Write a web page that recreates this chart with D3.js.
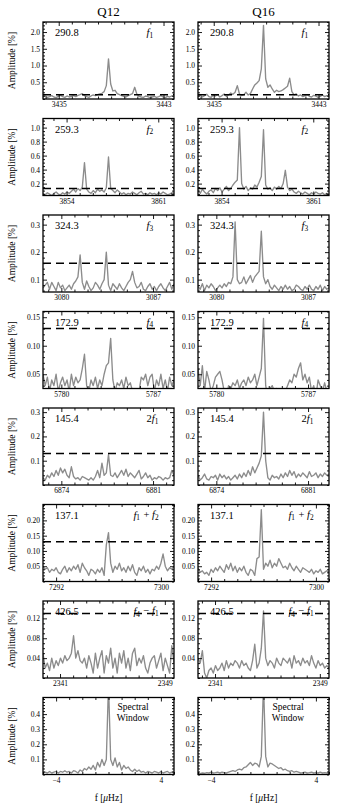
<!DOCTYPE html>
<html>
<head>
<meta charset="utf-8">
<script src="https://cdnjs.cloudflare.com/ajax/libs/d3/7.8.5/d3.min.js"></script>
<style>
  body { margin: 0; background: #fff; }
  svg { display: block; font-family: "Liberation Serif", "DejaVu Serif", serif; }
</style>
</head>
<body>
<svg id="chart" width="338" height="810"></svg>
<script>
// Amplitude spectra around each mode, Q12 (left) and Q16 (right)

const quarters = ['Q12', 'Q16'];
const periods = ['290.8', '259.3', '324.3', '172.9', '145.4', '137.1', '426.5', ''];
const modeLabels = ['f_1', 'f_2', 'f_3', 'f_4', '2f_1', 'f_1 + f_2', 'f_4 \u2212 f_1', ''];
// centre frequency of each row (uHz); every panel spans +-5 uHz around it
const centers = [3438.8, 3857.2, 3083.6, 5783.6, 6877.6, 7296.0, 2344.7, 0];
const xTickValues = [[3435, 3443], [3854, 3861], [3080, 3087], [5780, 5787], [6874, 6881], [7292, 7300], [2341, 2349], [-4, 4]];
const yDomains = [[0, 2.3], [0.03, 1.13], [0.055, 0.335], [0.025, 0.16], [0, 0.317], [0, 0.252], [0, 0.155], [0, 0.51]];
const yMajorTicks = [
  [0.5, 1.0, 1.5, 2.0], [0.2, 0.4, 0.6, 0.8, 1.0], [0.1, 0.2, 0.3], [0.05, 0.10, 0.15],
  [0.1, 0.2, 0.3], [0.05, 0.10, 0.15, 0.20], [0.04, 0.08, 0.12], [0.1, 0.2, 0.3, 0.4]
];
const yMinorStep = [0.1, 0.05, 0.02, 0.01, 0.02, 0.01, 0.01, 0.02];
const yFormats = ['.1f', '.1f', '.1f', '.2f', '.1f', '.2f', '.2f', '.1f'];
const thresholds = [0.13, 0.13, 0.16, 0.13, 0.13, 0.13, 0.13, null];

// amplitudes (%) on an even grid from centre-5 to centre+5
const q12Spectra = [
  [0.06,0.09,0.05,0.07,0.10,0.06,0.04,0.08,0.11,0.07, 0.05,0.09,0.06,0.08,0.10,0.07,0.11,0.13,0.16,0.10,
   0.07,0.05,0.09,0.12,0.10,0.13,0.15,0.17,0.22,0.40, 1.20,0.45,0.24,0.26,0.16,0.13,0.10,0.08,0.06,0.10,
   0.13,0.16,0.35,0.14,0.08,0.06,0.05,0.09,0.07,0.04, 0.06,0.08,0.05,0.07,0.10,0.06,0.04,0.08,0.06,0.09,0.07],
  [0.06,0.04,0.07,0.05,0.03,0.06,0.08,0.05,0.04,0.07, 0.05,0.08,0.06,0.09,0.12,0.08,0.13,0.10,0.15,0.50,
   0.12,0.08,0.06,0.10,0.07,0.12,0.09,0.11,0.08,0.14, 0.58,0.13,0.10,0.07,0.11,0.08,0.05,0.07,0.04,0.06,
   0.05,0.08,0.06,0.04,0.07,0.09,0.05,0.06,0.04,0.07, 0.05,0.06,0.04,0.07,0.05,0.08,0.06,0.04,0.05,0.07,0.06],
  [0.07,0.08,0.09,0.065,0.09,0.075,0.06,0.09,0.07,0.08, 0.06,0.07,0.08,0.065,0.085,0.095,0.11,0.19,0.09,0.065,
   0.095,0.075,0.06,0.07,0.09,0.08,0.065,0.085,0.10,0.20, 0.08,0.06,0.085,0.075,0.065,0.085,0.07,0.06,0.075,0.09,
   0.10,0.13,0.09,0.07,0.075,0.09,0.065,0.06,0.075,0.085, 0.065,0.075,0.06,0.075,0.085,0.07,0.06,0.075,0.09,0.065,0.085],
  [0.05,0.03,0.045,0.02,0.04,0.03,0.05,0.02,0.035,0.045, 0.03,0.04,0.02,0.05,0.03,0.045,0.035,0.04,0.06,0.085,
   0.03,0.02,0.04,0.03,0.045,0.025,0.04,0.03,0.05,0.065, 0.07,0.113,0.04,0.02,0.035,0.03,0.04,0.025,0.045,0.03,
   0.035,0.02,0.01,0.015,0.02,0.045,0.04,0.05,0.03,0.045, 0.05,0.02,0.04,0.03,0.05,0.025,0.04,0.02,0.045,0.03,0.04],
  [0.03,0.02,0.04,0.03,0.05,0.035,0.06,0.04,0.07,0.05, 0.065,0.04,0.03,0.075,0.035,0.025,0.03,0.02,0.035,0.03,
   0.025,0.02,0.03,0.02,0.035,0.06,0.03,0.09,0.04,0.05, 0.125,0.04,0.035,0.05,0.03,0.045,0.06,0.04,0.065,0.035,
   0.05,0.04,0.03,0.045,0.06,0.025,0.035,0.05,0.03,0.04, 0.02,0.03,0.025,0.035,0.03,0.02,0.03,0.025,0.03,0.06,0.04],
  [0.05,0.04,0.045,0.03,0.04,0.035,0.045,0.03,0.025,0.04, 0.05,0.03,0.045,0.035,0.05,0.04,0.055,0.03,0.06,0.045,
   0.035,0.02,0.04,0.035,0.025,0.04,0.03,0.045,0.02,0.12, 0.16,0.06,0.03,0.05,0.04,0.06,0.035,0.045,0.03,0.05,
   0.035,0.055,0.03,0.02,0.045,0.035,0.05,0.03,0.04,0.025, 0.04,0.035,0.05,0.04,0.06,0.09,0.05,0.035,0.045,0.04,0.05],
  [0.05,0.02,0.03,0.015,0.04,0.02,0.035,0.025,0.04,0.03, 0.045,0.035,0.04,0.05,0.085,0.04,0.055,0.035,0.03,0.04,
   0.02,0.045,0.03,0.01,0.05,0.02,0.04,0.055,0.01,0.045, 0.03,0.06,0.02,0.04,0.01,0.05,0.03,0.055,0.02,0.04,
   0.015,0.05,0.06,0.025,0.04,0.03,0.045,0.02,0.01,0.03, 0.04,0.045,0.02,0.035,0.05,0.015,0.04,0.025,0.01,0.065,0.03],
  [0.01,0.015,0.01,0.02,0.01,0.015,0.02,0.01,0.02,0.015, 0.025,0.015,0.02,0.01,0.025,0.02,0.01,0.03,0.02,0.04,
   0.03,0.05,0.035,0.06,0.03,0.08,0.05,0.10,0.06,0.10, 0.60,0.10,0.06,0.11,0.05,0.08,0.03,0.06,0.04,0.05,
   0.03,0.02,0.035,0.02,0.03,0.015,0.02,0.01,0.02,0.015, 0.01,0.02,0.015,0.01,0.02,0.01,0.015,0.02,0.01,0.015,0.01]
];
const q16Spectra = [
  [0.08,0.12,0.06,0.10,0.14,0.07,0.05,0.11,0.09,0.13, 0.06,0.10,0.15,0.08,0.12,0.18,0.14,0.20,0.40,0.15,
   0.10,0.13,0.20,0.12,0.16,0.30,0.42,0.48,0.55,0.90, 2.20,0.60,0.35,0.42,0.30,0.20,0.26,0.22,0.24,0.28,
   0.33,0.38,0.62,0.22,0.12,0.15,0.09,0.12,0.07,0.10, 0.13,0.08,0.06,0.11,0.09,0.05,0.08,0.12,0.07,0.10,0.08],
  [0.10,0.06,0.12,0.08,0.05,0.09,0.11,0.07,0.13,0.10, 0.14,0.08,0.12,0.16,0.10,0.13,0.18,0.22,0.25,1.00,
   0.20,0.12,0.16,0.10,0.14,0.12,0.18,0.15,0.22,0.30, 0.97,0.18,0.12,0.14,0.10,0.15,0.12,0.16,0.13,0.20,
   0.39,0.15,0.10,0.12,0.08,0.06,0.09,0.07,0.05,0.08, 0.06,0.04,0.07,0.05,0.08,0.06,0.05,0.07,0.04,0.06,0.05],
  [0.075,0.065,0.085,0.06,0.08,0.07,0.085,0.075,0.06,0.07, 0.08,0.07,0.085,0.075,0.09,0.085,0.11,0.31,0.10,0.085,
   0.09,0.11,0.085,0.10,0.115,0.09,0.11,0.12,0.13,0.276, 0.11,0.085,0.10,0.075,0.065,0.08,0.07,0.06,0.075,0.065,
   0.08,0.065,0.075,0.06,0.065,0.08,0.075,0.065,0.06,0.075, 0.065,0.08,0.065,0.06,0.075,0.065,0.08,0.06,0.075,0.065,0.07],
  [0.06,0.03,0.065,0.02,0.055,0.04,0.02,0.03,0.045,0.05, 0.055,0.04,0.02,0.01,0.03,0.025,0.035,0.03,0.04,0.025,
   0.035,0.04,0.03,0.045,0.035,0.04,0.05,0.03,0.045,0.06, 0.148,0.03,0.01,0.025,0.03,0.02,0.025,0.015,0.02,0.01,
   0.02,0.03,0.04,0.035,0.05,0.045,0.06,0.07,0.04,0.05, 0.035,0.045,0.02,0.03,0.01,0.04,0.03,0.02,0.035,0.02,0.025],
  [0.04,0.02,0.03,0.045,0.025,0.02,0.035,0.03,0.04,0.02, 0.045,0.03,0.04,0.025,0.035,0.02,0.03,0.04,0.025,0.045,
   0.03,0.05,0.035,0.06,0.04,0.075,0.05,0.07,0.09,0.12, 0.30,0.10,0.03,0.02,0.04,0.03,0.035,0.025,0.045,0.03,
   0.05,0.035,0.06,0.04,0.055,0.03,0.045,0.035,0.05,0.04, 0.03,0.055,0.035,0.04,0.05,0.03,0.045,0.035,0.05,0.04,0.045],
  [0.045,0.03,0.035,0.025,0.03,0.02,0.04,0.03,0.045,0.035, 0.05,0.04,0.03,0.055,0.04,0.06,0.035,0.05,0.03,0.045,
   0.035,0.05,0.03,0.02,0.04,0.035,0.02,0.075,0.08,0.235, 0.04,0.06,0.05,0.07,0.045,0.06,0.05,0.075,0.06,0.045,
   0.05,0.04,0.06,0.045,0.035,0.05,0.04,0.03,0.045,0.04, 0.035,0.03,0.04,0.025,0.035,0.03,0.04,0.025,0.03,0.035,0.03],
  [0.04,0.03,0.055,0.01,0.0,0.015,0.02,0.01,0.025,0.015, 0.02,0.03,0.015,0.035,0.02,0.03,0.025,0.035,0.03,0.02,
   0.035,0.025,0.03,0.02,0.015,0.035,0.068,0.02,0.03,0.06, 0.135,0.04,0.025,0.035,0.03,0.02,0.04,0.03,0.025,0.04,
   0.035,0.03,0.04,0.02,0.045,0.03,0.035,0.025,0.04,0.03, 0.035,0.025,0.045,0.03,0.02,0.035,0.025,0.03,0.02,0.025,0.02],
  [0.01,0.005,0.01,0.008,0.012,0.01,0.015,0.01,0.012,0.015, 0.01,0.015,0.012,0.01,0.015,0.02,0.025,0.02,0.03,0.035,
   0.03,0.045,0.05,0.065,0.08,0.06,0.075,0.07,0.05,0.12, 0.60,0.12,0.05,0.075,0.07,0.06,0.05,0.04,0.045,0.03,
   0.035,0.025,0.02,0.025,0.015,0.02,0.015,0.01,0.012,0.015, 0.01,0.012,0.015,0.01,0.012,0.01,0.015,0.01,0.012,0.01,0.008]
];

// ---- layout ----
const svg = d3.select('#chart');
const colLeft = [43, 198];
const panelW = 131;
const panelH = 77;
const rowTop = i => 22 + i * 96.5;
const modeLabelX = [0.79, 0.79, 0.79, 0.79, 0.79, 0.69, 0.69];

// draws "f_1 + f_2" style labels with italic f and subscripts
function mathLabel(sel, str) {
  const parts = str.match(/f_\d|[^f]+/g) || [];
  parts.forEach(p => {
    if (p.startsWith('f_')) {
      sel.append('tspan').attr('font-style', 'italic').text('f');
      sel.append('tspan').attr('font-size', '0.7em').attr('dy', '0.25em').text(p.slice(2));
      sel.append('tspan').attr('dy', '-0.25em').text('\u200a');
    } else {
      sel.append('tspan').text(p);
    }
  });
}

let clipId = 0;
centers.forEach((c, row) => {
  [q12Spectra[row], q16Spectra[row]].forEach((amps, col) => {
    const x0 = colLeft[col];
    const y0 = rowTop(row);
    const g = svg.append('g').attr('transform', `translate(${x0},${y0})`);

    const x = d3.scaleLinear().domain([c - 5, c + 5]).range([0, panelW]);
    const y = d3.scaleLinear().domain(yDomains[row]).range([panelH, 0]);
    const freqs = amps.map((a, k) => c - 5 + 10 * k / (amps.length - 1));

    const id = 'clip' + (clipId++);
    g.append('clipPath').attr('id', id)
      .append('rect').attr('width', panelW).attr('height', panelH);

    // spectrum
    g.append('path')
      .datum(amps)
      .attr('clip-path', `url(#${id})`)
      .attr('fill', 'none')
      .attr('stroke', '#8c8c8c')
      .attr('stroke-width', 1.35)
      .attr('stroke-linejoin', 'round')
      .attr('d', d3.line().x((d, k) => x(freqs[k])).y(d => y(d)));

    // significance threshold
    if (thresholds[row] !== null) {
      g.append('line')
        .attr('x1', 0).attr('x2', panelW)
        .attr('y1', y(thresholds[row])).attr('y2', y(thresholds[row]))
        .attr('stroke', '#000').attr('stroke-width', 1.5)
        .attr('stroke-dasharray', '8,5');
    }

    // axes (ticks pointing inward)
    const [lo, hi] = x.domain();
    const xMinor = d3.range(Math.ceil(lo), Math.floor(hi) + 1).filter(v => !xTickValues[row].includes(v));
    const yMinor = d3.range(Math.ceil(yDomains[row][0] / yMinorStep[row]), Math.floor(yDomains[row][1] / yMinorStep[row] + 1e-6) + 1)
      .map(k => +(k * yMinorStep[row]).toFixed(4))
      .filter(v => !yMajorTicks[row].some(m => Math.abs(m - v) < 1e-6));

    const addAxis = (axis, tx, ty) => {
      const a = g.append('g').attr('transform', `translate(${tx},${ty})`).call(axis);
      a.attr('font-family', null);
      a.select('.domain').remove();
      a.selectAll('line').attr('stroke', '#000').attr('stroke-width', 0.9);
      a.selectAll('text').attr('font-size', 7.5).attr('fill', '#000');
      return a;
    };

    addAxis(d3.axisBottom(x).tickValues(xTickValues[row]).tickSize(-4).tickPadding(3).tickFormat(d3.format('d')), 0, panelH);
    addAxis(d3.axisBottom(x).tickValues(xMinor).tickSize(-2.5).tickFormat(''), 0, panelH);
    addAxis(d3.axisTop(x).tickValues(xTickValues[row]).tickSize(-4).tickFormat(''), 0, 0);
    addAxis(d3.axisTop(x).tickValues(xMinor).tickSize(-2.5).tickFormat(''), 0, 0);

    addAxis(d3.axisLeft(y).tickValues(yMajorTicks[row]).tickSize(-4).tickPadding(3).tickFormat(d3.format(yFormats[row])), 0, 0);
    addAxis(d3.axisLeft(y).tickValues(yMinor).tickSize(-2).tickFormat(''), 0, 0);
    addAxis(d3.axisRight(y).tickValues(yMajorTicks[row]).tickSize(-4).tickFormat(''), panelW, 0);
    addAxis(d3.axisRight(y).tickValues(yMinor).tickSize(-2).tickFormat(''), panelW, 0);

    // frame
    g.append('rect')
      .attr('width', panelW).attr('height', panelH)
      .attr('fill', 'none').attr('stroke', '#000').attr('stroke-width', 1.3);

    // annotations
    if (periods[row]) {
      g.append('text').attr('x', 12).attr('y', 14)
        .attr('font-size', 10.5).text(periods[row]);
    }
    if (modeLabels[row]) {
      const t = g.append('text').attr('x', panelW * modeLabelX[row]).attr('y', 14).attr('font-size', 10.5);
      mathLabel(t, modeLabels[row]);
    } else {
      ['Spectral', 'Window'].forEach((w, i) => {
        g.append('text').attr('x', 90).attr('y', 12 + i * 11)
          .attr('text-anchor', 'middle').attr('font-size', 9.5).text(w);
      });
    }

    if (col === 0) {
      svg.append('text')
        .attr('transform', `translate(15,${y0 + panelH / 2}) rotate(-90)`)
        .attr('text-anchor', 'middle').attr('font-size', 9.5)
        .text('Amplitude [%]');
    }
    if (row === 0) {
      svg.append('text').attr('x', x0 + panelW / 2).attr('y', 16)
        .attr('text-anchor', 'middle').attr('font-size', 13).text(quarters[col]);
    }
    if (row === centers.length - 1) {
      const t = svg.append('text').attr('x', x0 + panelW / 2).attr('y', y0 + panelH + 26)
        .attr('text-anchor', 'middle').attr('font-size', 9.5);
      t.append('tspan').text('f [');
      t.append('tspan').attr('font-style', 'italic').text('\u03bc');
      t.append('tspan').text('Hz]');
    }
  });
});
</script>
</body>
</html>
